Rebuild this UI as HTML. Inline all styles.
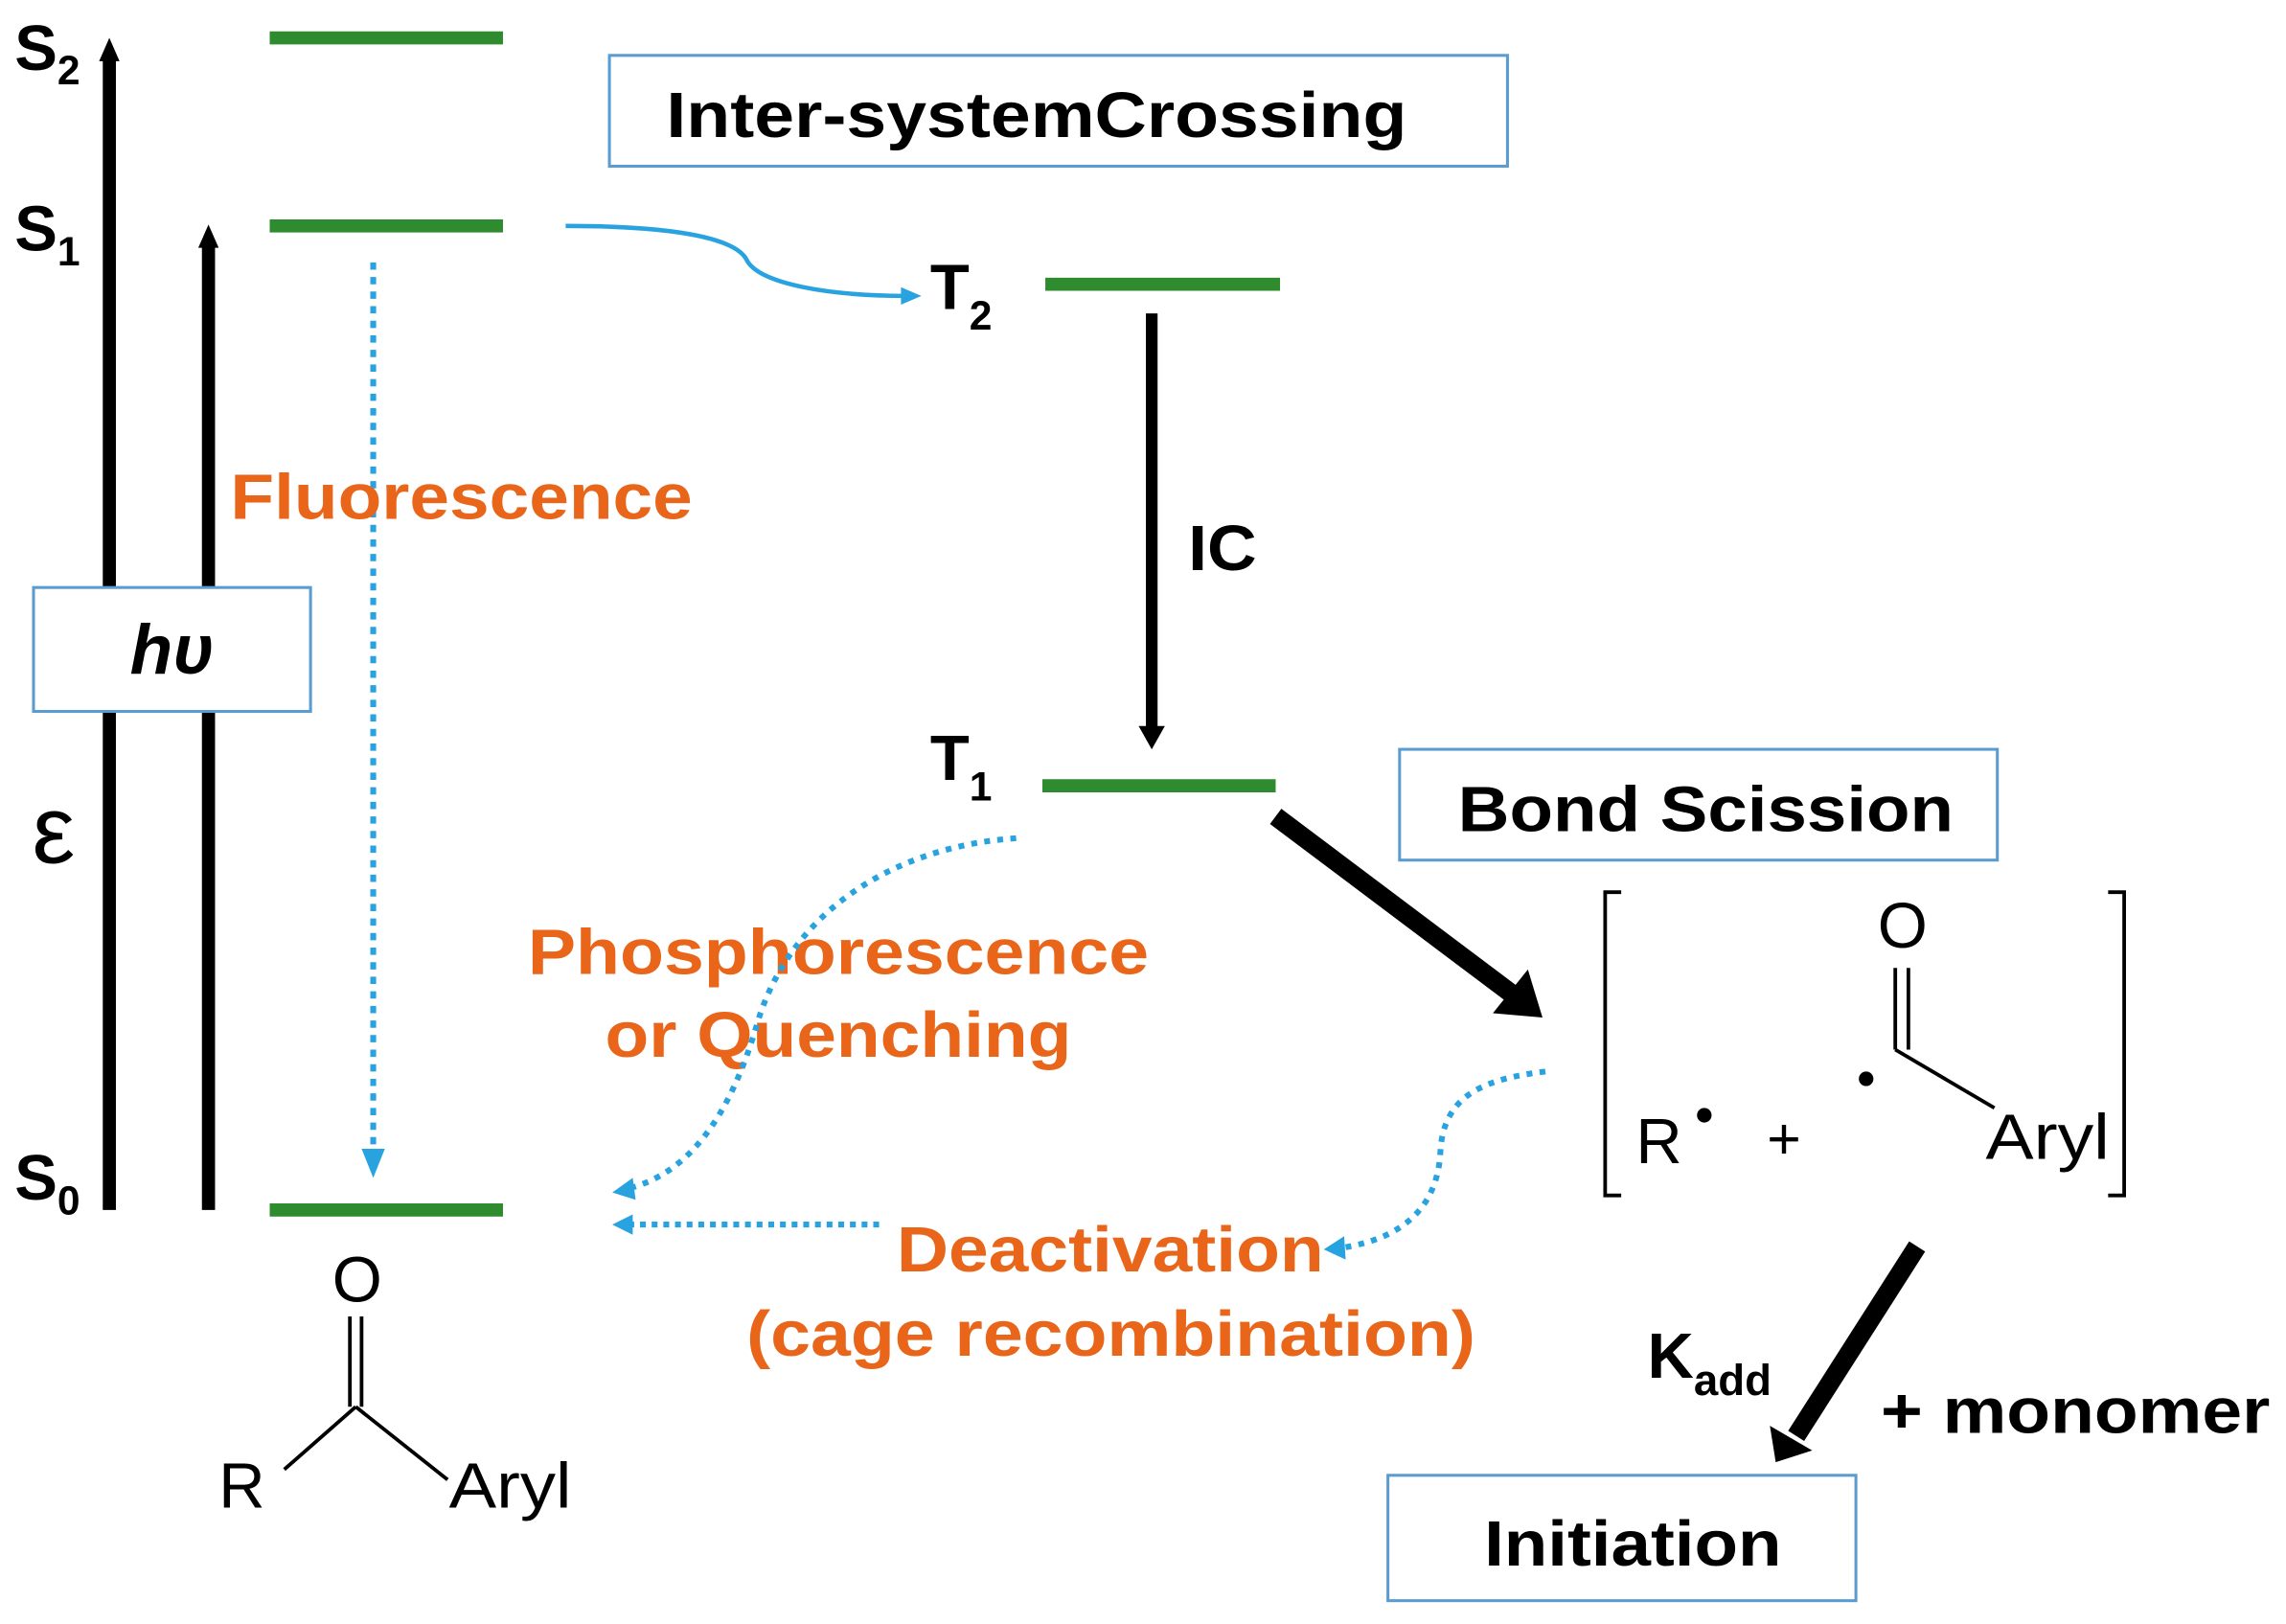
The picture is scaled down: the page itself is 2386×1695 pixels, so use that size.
<!DOCTYPE html>
<html><head><meta charset="utf-8"><style>
html,body{margin:0;padding:0;background:#fff;width:2386px;height:1695px;overflow:hidden}
svg{display:block}
text{font-family:"Liberation Sans",Arial,sans-serif}
.b{font-weight:bold}
.o{fill:#E8651A;font-weight:bold;font-size:44px}
</style></head><body>
<svg width="2386" height="1695" viewBox="0 0 1568 1114" preserveAspectRatio="none">
<!-- green levels -->
<g stroke="#2E8B2E" stroke-width="9">
<line x1="185" y1="26" x2="345" y2="26"/>
<line x1="185" y1="155" x2="345" y2="155"/>
<line x1="185" y1="830" x2="345" y2="830"/>
<line x1="717" y1="195" x2="878" y2="195"/>
<line x1="715" y1="539" x2="875" y2="539"/>
</g>
<!-- excitation arrows -->
<line x1="75" y1="830" x2="75" y2="40" stroke="#000" stroke-width="9"/>
<path d="M68,42 L75,26 L82,42z" fill="#000"/>
<line x1="143" y1="830" x2="143" y2="168" stroke="#000" stroke-width="9"/>
<path d="M136,170 L143,154 L150,170z" fill="#000"/>
<rect x="23" y="403" width="190" height="85" fill="#fff" stroke="#5A9BD0" stroke-width="2"/>
<text x="118" y="462" font-size="48" font-style="italic" font-weight="bold" text-anchor="middle" font-family="Liberation Serif,serif">hυ</text>
<text x="22" y="592" font-size="66" font-family="Liberation Serif,serif">ε</text>
<text x="10" y="48" font-size="44" class="b">S<tspan font-size="28" dy="10">2</tspan></text>
<text x="10" y="172" font-size="44" class="b">S<tspan font-size="28" dy="10">1</tspan></text>
<text x="10" y="823" font-size="44" class="b">S<tspan font-size="28" dy="10">0</tspan></text>
<!-- fluorescence -->
<line x1="256" y1="180" x2="256" y2="790" stroke="#29A3E0" stroke-width="4" stroke-dasharray="5,5"/>
<path d="M248,788 L256,808 L264,788z" fill="#29A3E0"/>
<text x="158" y="356" class="o" textLength="317" lengthAdjust="spacingAndGlyphs">Fluorescence</text>
<!-- ISC -->
<rect x="418" y="38" width="616" height="76" fill="#fff" stroke="#5A9BD0" stroke-width="2"/>
<text x="457" y="94" font-size="44" class="b" textLength="508" lengthAdjust="spacingAndGlyphs">Inter-systemCrossing</text>
<path d="M388,155 C470,155 505,165 512,178 C520,195 570,203 622,203" fill="none" stroke="#29A3E0" stroke-width="3"/>
<path d="M618,197 L632,203 L618,209z" fill="#29A3E0"/>
<text x="638" y="212" font-size="44" class="b">T<tspan font-size="28" dy="14">2</tspan></text>
<text x="638" y="535" font-size="44" class="b">T<tspan font-size="28" dy="14">1</tspan></text>
<!-- IC -->
<line x1="790" y1="215" x2="790" y2="500" stroke="#000" stroke-width="8"/>
<path d="M781,498 L790,514 L799,498z" fill="#000"/>
<text x="815" y="391" font-size="44" class="b" textLength="47" lengthAdjust="spacingAndGlyphs">IC</text>
<!-- Bond scission -->
<rect x="960" y="514" width="410" height="76" fill="#fff" stroke="#5A9BD0" stroke-width="2"/>
<text x="1000" y="570" font-size="44" class="b" textLength="340" lengthAdjust="spacingAndGlyphs">Bond Scission</text>
<line x1="875" y1="560" x2="1040" y2="684" stroke="#000" stroke-width="13"/>
<path d="M1024,695 L1058,698 L1048,665z" fill="#000"/>
<!-- radical bracket -->
<path d="M1112,612 L1101,612 L1101,820 L1112,820 M1446,612 L1457,612 L1457,820 L1446,820" fill="none" stroke="#000" stroke-width="2.5"/>
<text x="1122" y="798" font-size="44">R</text>
<circle cx="1169" cy="765" r="5" fill="#000"/>
<text x="1212" y="795" font-size="40">+</text>
<circle cx="1280" cy="740" r="5" fill="#000"/>
<text x="1305" y="650" font-size="44" text-anchor="middle">O</text>
<line x1="1300" y1="664" x2="1300" y2="720" stroke="#000" stroke-width="2.5"/>
<line x1="1309" y1="664" x2="1309" y2="720" stroke="#000" stroke-width="2.5"/>
<line x1="1300" y1="720" x2="1368" y2="760" stroke="#000" stroke-width="2.5"/>
<text x="1362" y="795" font-size="44" textLength="85" lengthAdjust="spacingAndGlyphs">Aryl</text>
<!-- deactivation curve -->
<path d="M1060,735 C1020,740 990,750 988,790 C986,830 960,850 920,856" fill="none" stroke="#29A3E0" stroke-width="4" stroke-dasharray="4,5"/>
<path d="M922,848 L908,857 L923,864z" fill="#29A3E0"/>
<text x="615" y="872" class="o" textLength="293" lengthAdjust="spacingAndGlyphs">Deactivation</text>
<text x="512" y="930" class="o" textLength="500" lengthAdjust="spacingAndGlyphs">(cage recombination)</text>
<text x="362" y="668" class="o" textLength="426" lengthAdjust="spacingAndGlyphs">Phosphorescence</text>
<text x="415" y="725" class="o" textLength="320" lengthAdjust="spacingAndGlyphs">or Quenching</text>
<path d="M697,575 C620,580 545,620 520,700 C500,770 470,805 432,815" fill="none" stroke="#29A3E0" stroke-width="4" stroke-dasharray="4,5"/>
<path d="M434,808 L420,818 L436,823z" fill="#29A3E0"/>
<line x1="603" y1="840" x2="432" y2="840" stroke="#29A3E0" stroke-width="4" stroke-dasharray="4,4"/>
<path d="M434,833 L420,840 L434,847z" fill="#29A3E0"/>
<!-- initiation -->
<line x1="1315" y1="855" x2="1232" y2="985" stroke="#000" stroke-width="13"/>
<path d="M1214,978 L1218,1003 L1243,995z" fill="#000"/>
<text x="1130" y="945" font-size="44" class="b">K<tspan font-size="30" dy="12">add</tspan></text>
<text x="1290" y="983" font-size="44" class="b" textLength="267" lengthAdjust="spacingAndGlyphs">+ monomer</text>
<rect x="952" y="1012" width="321" height="86" fill="#fff" stroke="#5A9BD0" stroke-width="2"/>
<text x="1018" y="1074" font-size="44" class="b" textLength="204" lengthAdjust="spacingAndGlyphs">Initiation</text>
<!-- bottom molecule -->
<text x="245" y="893" font-size="44" text-anchor="middle">O</text>
<line x1="240" y1="903" x2="240" y2="965" stroke="#000" stroke-width="2.5"/>
<line x1="248" y1="903" x2="248" y2="965" stroke="#000" stroke-width="2.5"/>
<line x1="244" y1="965" x2="195" y2="1008" stroke="#000" stroke-width="2.5"/>
<line x1="244" y1="965" x2="307" y2="1015" stroke="#000" stroke-width="2.5"/>
<text x="150" y="1034" font-size="44">R</text>
<text x="308" y="1034" font-size="44" textLength="84" lengthAdjust="spacingAndGlyphs">Aryl</text>
</svg>
</body></html>
